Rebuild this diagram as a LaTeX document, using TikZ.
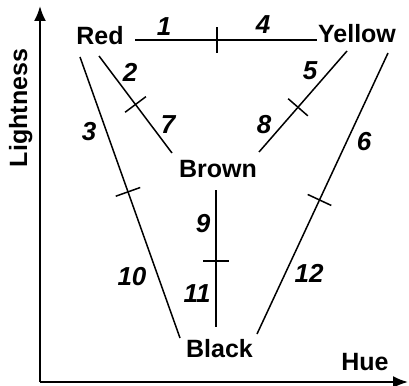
\documentclass[tikz,border=0pt]{standalone}
\usepackage{fontspec}
\setmainfont{Liberation Sans}
\usetikzlibrary{arrows.meta,decorations.markings,calc}
\begin{document}
\begin{tikzpicture}[x=1pt,y=-1pt,
  lbl/.style={font=\fontsize{25}{29}\selectfont\bfseries, inner sep=0pt, anchor=base},
  num/.style={font=\fontsize{26}{30}\selectfont\bfseries\itshape, inner sep=0pt, anchor=base},
  conn/.style={line width=1.5pt},
  axisline/.style={line width=2pt, -{Latex[length=15pt,width=12pt]}},
  tickat/.style={postaction={decorate}, decoration={markings, mark=at position #1 with {\draw[line width=1.5pt] (0,-13pt) -- (0,13pt);}}}
]
\useasboundingbox (0,0) rectangle (409,385);

% axes
\coordinate (O) at (40,382);
\coordinate (Ytop) at (40,6);
\coordinate (Xend) at (408,382);
\draw[axisline] (O) -- (Ytop);
\draw[axisline] (O) -- (Xend);
\node[lbl, rotate=90] (Light) at (27,108) {Lightness};
\node[lbl] (Hue) at (365,370) {Hue};

% colour nodes
\node[lbl] (Red) at (100,45) {Red};
\node[lbl] (Yellow) at (357,43) {Yellow};
\node[lbl] (Brown) at (218,177) {Brown};
\node[lbl] (Black) at (219.5,357) {Black};

% connector end points
\coordinate (rY) at ($(Red.base)+(35,-5)$);
\coordinate (rB) at ($(Red.base)+(-1,11)$);
\coordinate (rK) at ($(Red.base)+(-20,12)$);
\coordinate (yR) at ($(Yellow.base)+(-40,-3)$);
\coordinate (yB) at ($(Yellow.base)+(-10,8)$);
\coordinate (yK) at ($(Yellow.base)+(31,10)$);
\coordinate (bR) at ($(Brown.base)+(-46,-24)$);
\coordinate (bY) at ($(Brown.base)+(41,-25)$);
\coordinate (bK) at ($(Brown.base)+(-2,13)$);
\coordinate (kR) at ($(Black.base)+(-39.5,-19)$);
\coordinate (kY) at ($(Black.base)+(37.5,-23)$);
\coordinate (kB) at ($(Black.base)+(-3.5,-30)$);

% connectors with mid ticks
\draw[conn, tickat=0.45] (rY) -- (yR);
\draw[conn, tickat=0.5] (rB) -- (bR);
\draw[conn, tickat=0.48] (rK) -- (kR);
\draw[conn, tickat=0.557] (yB) -- (bY);
\draw[conn, tickat=0.523] (yK) -- (kY);
\draw[conn, tickat=0.52] (bK) -- (kB);

% numbers
\node[num] (n1) at (164,36) {1};
\node[num] (n4) at (263,34) {4};
\node[num] (n2) at (130,82) {2};
\node[num] (n7) at (168,133) {7};
\node[num] (n3) at (89,140) {3};
\node[num] (n10) at (132,285) {10};
\node[num] (n5) at (310,80) {5};
\node[num] (n8) at (264,133) {8};
\node[num] (n6) at (364,150) {6};
\node[num] (n12) at (309,282) {12};
\node[num] (n9) at (203,232) {9};
\node[num] (n11) at (197,302) {11};
\end{tikzpicture}
\end{document}
